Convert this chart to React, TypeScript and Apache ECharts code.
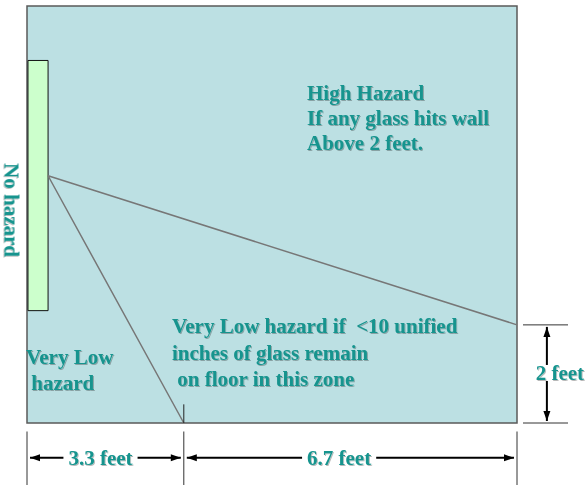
import React, { useEffect, useRef } from "react";
import * as echarts from "echarts";

// Room geometry in feet (x: distance from glass wall, y: height)
const roomWidthFt = 10;
const roomHeightFt = 8.5;
const glassPanel = [[0.02, 2.29, 0.43, 7.39]]; // x0, y0, x1, y1
const trajectory = [
  [10, 2],
  [0.43, 5.04],
  [3.2, 0],
];
const floorTick = [
  [3.2, 0],
  [3.2, 0.38],
];
// horizontal dimensions (below floor)
const dimXLabels = ["3.3 feet", "6.7 feet"];
const dimXStarts = [0, 3.2];
const dimXEnds = [3.2, 10];
const dimXLabelAt = [1.5, 6.37];
const dimXLevel = -0.71;
const extXPositions = [0, 3.2, 10];
// vertical dimension (right of wall)
const dimYLabels = ["2 feet"];
const dimYStarts = [0];
const dimYEnds = [2];
const dimYLabelAt = [1.02];
const dimYLevel = 10.61;
const extYPositions = [0, 2];

const TEAL = "#15948e";
const FONT = "bold 21px 'Liberation Serif', 'DejaVu Serif', serif";

function measure(text: string, font: string) {
  const c = document.createElement("canvas").getContext("2d");
  if (!c) return text.length * 9;
  c.font = font;
  return c.measureText(text).width;
}

const textShadow = {
  textShadowColor: "rgba(0,0,0,0.28)",
  textShadowOffsetX: 1,
  textShadowOffsetY: 1,
  textShadowBlur: 1,
};

export default function App() {
  const ref = useRef<HTMLDivElement>(null);
  useEffect(() => {
    if (!ref.current) return;
    const chart = echarts.init(ref.current, undefined, { renderer: "svg" });

    const arrowHead = (x: number, y: number, dx: number, dy: number) => {
      const L = 10,
        W = 3.5;
      const px = -dy,
        py = dx;
      return {
        type: "polygon",
        shape: {
          points: [
            [x, y],
            [x - dx * L + px * W, y - dy * L + py * W],
            [x - dx * L - px * W, y - dy * L - py * W],
          ],
        },
        style: { fill: "#000" },
      };
    };

    const option: any = {
      animation: false,
      grid: {
        left: 27,
        top: 6,
        width: 490,
        height: 417,
        show: true,
        backgroundColor: "#bce0e3",
        borderColor: "#5a5a5a",
        borderWidth: 1.5,
      },
      xAxis: { type: "value", min: 0, max: roomWidthFt, show: false },
      yAxis: { type: "value", min: 0, max: roomHeightFt, show: false },
      series: [
        {
          type: "custom",
          data: glassPanel,
          clip: false,
          renderItem: (params: any, api: any) => {
            const p0 = api.coord([api.value(0), api.value(1)]);
            const p1 = api.coord([api.value(2), api.value(3)]);
            return {
              type: "rect",
              shape: {
                x: p0[0],
                y: p1[1],
                width: p1[0] - p0[0],
                height: p0[1] - p1[1],
              },
              style: { fill: "#ccffcc", stroke: "#111", lineWidth: 1 },
            };
          },
        },
        {
          type: "line",
          data: trajectory,
          showSymbol: false,
          symbol: "none",
          lineStyle: { color: "#777", width: 1.5 },
        },
        {
          type: "line",
          data: floorTick,
          symbol: "none",
          lineStyle: { color: "#222", width: 1 },
        },
        // extension lines below the floor
        {
          type: "custom",
          data: extXPositions.map((x) => [x]),
          clip: false,
          renderItem: (params: any, api: any) => {
            const p = api.coord([api.value(0), 0]);
            return {
              type: "line",
              shape: { x1: p[0], y1: p[1] + 8.5, x2: p[0], y2: p[1] + 70 },
              style: { stroke: "#333", lineWidth: 1 },
            };
          },
        },
        // extension lines right of the wall
        {
          type: "custom",
          data: extYPositions.map((y) => [y]),
          clip: false,
          renderItem: (params: any, api: any) => {
            const p = api.coord([roomWidthFt, api.value(0)]);
            return {
              type: "line",
              shape: { x1: p[0] + 6, y1: p[1], x2: p[0] + 51, y2: p[1] },
              style: { stroke: "#333", lineWidth: 1 },
            };
          },
        },
        // horizontal dimension arrows
        {
          type: "custom",
          data: dimXLabels.map((l, i) => [dimXStarts[i], dimXEnds[i], dimXLabelAt[i], i]),
          clip: false,
          renderItem: (params: any, api: any) => {
            const i = api.value(3);
            const label = dimXLabels[i];
            const a = api.coord([api.value(0), dimXLevel]);
            const b = api.coord([api.value(1), dimXLevel]);
            const m = api.coord([api.value(2), dimXLevel]);
            const x1 = a[0] + 3,
              x2 = b[0] - 3,
              y = a[1];
            const gap = measure(label, FONT) / 2 + 5;
            return {
              type: "group",
              children: [
                { type: "line", shape: { x1, y1: y, x2: m[0] - gap, y2: y }, style: { stroke: "#000", lineWidth: 2 } },
                { type: "line", shape: { x1: m[0] + gap, y1: y, x2, y2: y }, style: { stroke: "#000", lineWidth: 2 } },
                arrowHead(x1, y, -1, 0),
                arrowHead(x2, y, 1, 0),
                {
                  type: "text",
                  style: {
                    text: label,
                    x: m[0],
                    y,
                    align: "center",
                    verticalAlign: "middle",
                    font: FONT,
                    fill: TEAL,
                    ...textShadow,
                  },
                },
              ],
            };
          },
        },
        // vertical dimension arrow
        {
          type: "custom",
          data: dimYLabels.map((l, i) => [dimYStarts[i], dimYEnds[i], dimYLabelAt[i], i]),
          clip: false,
          renderItem: (params: any, api: any) => {
            const i = api.value(3);
            const label = dimYLabels[i];
            const a = api.coord([dimYLevel, api.value(0)]);
            const b = api.coord([dimYLevel, api.value(1)]);
            const m = api.coord([dimYLevel, api.value(2)]);
            const x = a[0],
              y1 = a[1] - 2,
              y2 = b[1] + 2;
            const gap = 8;
            return {
              type: "group",
              children: [
                { type: "line", shape: { x1: x, y1, x2: x, y2: m[1] + gap }, style: { stroke: "#000", lineWidth: 2 } },
                { type: "line", shape: { x1: x, y1: m[1] - gap, x2: x, y2 }, style: { stroke: "#000", lineWidth: 2 } },
                arrowHead(x, y1, 0, 1),
                arrowHead(x, y2, 0, -1),
                {
                  type: "text",
                  style: {
                    text: label,
                    x: x + 13,
                    y: m[1],
                    align: "center",
                    verticalAlign: "middle",
                    font: FONT,
                    fill: TEAL,
                    ...textShadow,
                  },
                },
              ],
            };
          },
        },
      ],
      graphic: [
        {
          type: "text",
          left: 307,
          top: 80,
          style: {
            text: "High Hazard\nIf any glass hits wall\nAbove 2 feet.",
            font: FONT,
            fill: TEAL,
            lineHeight: 25,
            ...textShadow,
          },
        },
        {
          type: "text",
          left: 172,
          top: 313,
          style: {
            text: "Very Low hazard if  <10 unified\ninches of glass remain\n on floor in this zone",
            font: FONT,
            fill: TEAL,
            lineHeight: 26.5,
            ...textShadow,
          },
        },
        {
          type: "text",
          left: 26,
          top: 344,
          style: {
            text: "Very Low\n hazard",
            font: FONT,
            fill: TEAL,
            lineHeight: 26,
            ...textShadow,
          },
        },
        {
          type: "text",
          x: 11.5,
          y: 210,
          rotation: -Math.PI / 2,
          style: {
            text: "No hazard",
            font: FONT,
            fill: TEAL,
            align: "center",
            verticalAlign: "middle",
            ...textShadow,
          },
        },
      ],
    };
    chart.setOption(option);
    return () => chart.dispose();
  }, []);
  return (
    <div
      ref={ref}
      style={{ position: "fixed", left: 0, top: 0, width: 586, height: 485, background: "#fff" }}
    />
  );
}
